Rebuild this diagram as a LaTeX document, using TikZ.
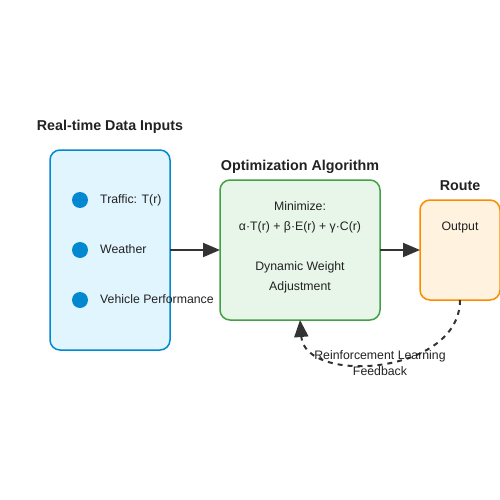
\documentclass[tikz,border=0pt]{standalone}
\usepackage{fontspec}
\setmainfont{Liberation Sans}
\usetikzlibrary{arrows.meta}
\definecolor{inStroke}{HTML}{0288D1}
\definecolor{inFill}{HTML}{E1F5FE}
\definecolor{optStroke}{HTML}{43A047}
\definecolor{optFill}{HTML}{E8F5E9}
\definecolor{outStroke}{HTML}{FB8C00}
\definecolor{outFill}{HTML}{FFF3E0}
\definecolor{arrowGray}{HTML}{333333}
\definecolor{txt}{HTML}{222222}
\begin{document}
\begin{tikzpicture}[x=1pt,y=-1pt,
  panel/.style={rounded corners=10pt,line width=1.5pt},
  title/.style={font=\fontsize{14.3}{16}\selectfont\bfseries,text=txt,anchor=mid,inner sep=0pt},
  label/.style={font=\fontsize{12.3}{14}\selectfont,text=txt,anchor=mid,inner sep=0pt},
  dot/.style={circle,fill=inStroke,minimum size=16pt,inner sep=0pt},
  flow/.style={draw=arrowGray,line width=2pt,-{Triangle[length=17pt,width=14pt]}}
]
\useasboundingbox (0,0) rectangle (500,500);
\fill[white] (0,0) rectangle (500,500);

% input panel
\draw[panel,draw=inStroke,fill=inFill] (50,150) rectangle (170,350);
\coordinate (inE) at (170,250);
\node[title] (inT) at (110,127.5) {Real-time Data Inputs};
\node[dot] (d1) at (80,200) {};
\node[dot] (d2) at (80,250) {};
\node[dot] (d3) at (80,300) {};
\node[label,anchor=mid west] (l1) at (100,201) {Traffic: T(r)};
\node[label,anchor=mid west] (l2) at (100,251) {Weather};
\node[label,anchor=mid west] (l3) at (100,301) {Vehicle Performance};

% optimization panel
\draw[panel,draw=optStroke,fill=optFill] (220,180) rectangle (380,320);
\coordinate (optW) at (220,250);
\coordinate (optE) at (380,250);
\coordinate (optS) at (300,320);
\node[title] (optT) at (300,167.5) {Optimization Algorithm};
\node[label] (m1) at (300,208) {Minimize:};
\node[label] (m2) at (300,228) {α·T(r) + β·E(r) + γ·C(r)};
\node[label] (m3) at (300,268) {Dynamic Weight};
\node[label] (m4) at (300,288) {Adjustment};

% route panel
\draw[panel,draw=outStroke,fill=outFill] (420,200) rectangle (500,300);
\coordinate (outW) at (420,250);
\coordinate (outS) at (460,300);
\node[title] (outT) at (460,187.5) {Route};
\node[label] (o1) at (460,228) {Output};

% connectors
\draw[flow] (inE) -- (optW);
\draw[flow] (optE) -- (outW);
\draw[draw=arrowGray,line width=2pt,dash pattern=on 5pt off 5pt,-{Triangle[length=17pt,width=14pt]}]
  (outS) .. controls (460,375) and (305,385) .. (optS);

\node[label] (fb1) at (380,357) {Reinforcement Learning};
\node[label] (fb2) at (380,373) {Feedback};
\end{tikzpicture}
\end{document}
